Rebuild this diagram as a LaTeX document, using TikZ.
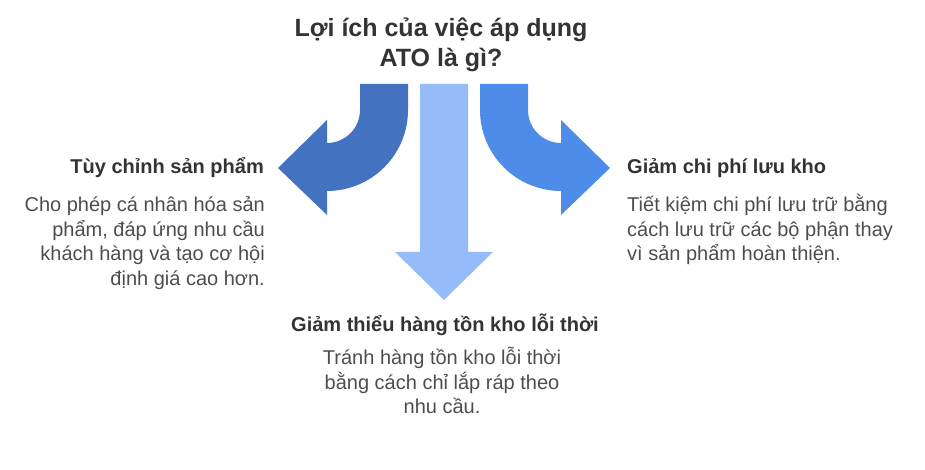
\documentclass[tikz,border=0pt]{standalone}
\usepackage{fontspec}
\setmainfont{Liberation Sans}
\definecolor{arrowL}{HTML}{4372C0}
\definecolor{arrowC}{HTML}{95BCF9}
\definecolor{arrowR}{HTML}{4E8CE9}
\definecolor{headc}{HTML}{333333}
\definecolor{bodyc}{HTML}{4D4D4D}
\tikzset{
  titletext/.style={font=\fontsize{25}{30}\selectfont\bfseries, text=headc, align=center, inner sep=0},
  headtext/.style={font=\fontsize{20}{24}\selectfont\bfseries, text=headc, inner sep=0},
  bodytext/.style={font=\fontsize{20}{24.5}\selectfont, text=bodyc, inner sep=0},
}
\begin{document}
\begin{tikzpicture}[x=1pt,y=1pt]
\useasboundingbox (0,0) rectangle (925,470);
% left curved arrow
\fill[arrowL] (360,386) -- (408,386) -- (408,360) arc[start angle=0, end angle=-90, radius=81]
  -- (327,255) -- (278,302) -- (327,350) -- (327,327)
  arc[start angle=-90, end angle=0, radius=33] -- cycle;
% right curved arrow
\fill[arrowR] (528,386) -- (480,386) -- (480,360) arc[start angle=180, end angle=270, radius=81]
  -- (561,255) -- (610,302) -- (561,350) -- (561,327)
  arc[start angle=270, end angle=180, radius=33] -- cycle;
% centre straight arrow
\fill[arrowC] (420,386) -- (468,386) -- (468,218) -- (493,218) -- (444,170) -- (395,218) -- (420,218) -- cycle;
% title
\node[titletext, anchor=base] (title) at (441,403) {Lợi ích của việc áp dụng\\ATO là gì?};
% left
\node[headtext, anchor=base east] (lhead) at (264,296) {Tùy chỉnh sản phẩm};
\node[bodytext, align=right, anchor=base east] (lbody) at (265,184.5) {Cho phép cá nhân hóa sản\\phẩm, đáp ứng nhu cầu\\khách hàng và tạo cơ hội\\định giá cao hơn.};
% right
\node[headtext, anchor=base west] (rhead) at (627,296) {Giảm chi phí lưu kho};
\node[bodytext, align=left, anchor=base west] (rbody) at (627,209) {Tiết kiệm chi phí lưu trữ bằng\\cách lưu trữ các bộ phận thay\\vì sản phẩm hoàn thiện.};
% bottom
\node[headtext, anchor=base] (bhead) at (445,138) {Giảm thiểu hàng tồn kho lỗi thời};
\node[bodytext, align=center, anchor=base] (bbody) at (442,56) {Tránh hàng tồn kho lỗi thời\\bằng cách chỉ lắp ráp theo\\nhu cầu.};
\end{tikzpicture}
\end{document}
